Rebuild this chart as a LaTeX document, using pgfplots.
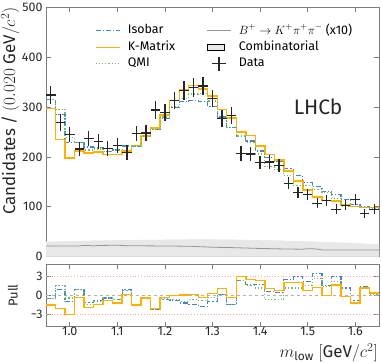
\documentclass[border=0pt]{standalone}
\usepackage{fontspec}
\setmainfont{Fira Sans}
\usepackage{pgfplots}
\usepackage{pgfplotstable}
\pgfplotsset{compat=1.18}
\definecolor{isocol}{RGB}{66,133,205}
\definecolor{kmcol}{RGB}{255,176,0}
\definecolor{qmicol}{RGB}{118,186,104}
\definecolor{combf}{RGB}{232,232,232}
\definecolor{bkpp}{RGB}{150,150,150}
\definecolor{frame}{RGB}{125,125,125}

\pgfplotstableread{
xl xc xe data err iso km qmi piso pkm pqmi
0.95 0.96 0.01 324 18.0 315 297 315 -0.5 -1.5 -0.5
0.97 0.98 0.01 269 16.4 285 235 295 1.0 -2.1 1.6
0.99 1.00 0.01 245 15.7 229 198 239 -1.0 -3.0 -0.4
1.01 1.02 0.01 216 14.7 229 212 229 0.9 -0.3 0.9
1.03 1.04 0.01 237 15.4 220 208 214 -1.1 -1.9 -1.5
1.05 1.06 0.01 231 15.2 219 210 216 -0.8 -1.4 -1.0
1.07 1.08 0.01 217 14.7 211 205 211 -0.4 -0.8 -0.4
1.09 1.10 0.01 223 14.9 214 205 213 -0.6 -1.2 -0.7
1.11 1.12 0.01 209 14.5 222 212 221 0.9 0.2 0.8
1.13 1.14 0.01 247 15.7 222 223 222 -1.6 -1.5 -1.6
1.15 1.16 0.01 248 15.7 242 242 242 -0.4 -0.4 -0.4
1.17 1.18 0.01 294 17.1 256 258 255 -2.2 -2.1 -2.3
1.19 1.20 0.01 289 17.0 277 284 280 -0.7 -0.3 -0.5
1.21 1.22 0.01 313 17.7 299 313 301 -0.8 0.0 -0.7
1.23 1.24 0.01 333 18.2 311 335 317 -1.2 0.1 -0.9
1.25 1.26 0.01 339 18.4 313 343 326 -1.4 0.2 -0.7
1.27 1.28 0.01 342 18.5 311 336 327 -1.7 -0.3 -0.8
1.29 1.30 0.01 317 17.8 301 322 312 -0.9 0.3 -0.3
1.31 1.32 0.01 277 16.6 280 295 279 0.2 1.1 0.1
1.33 1.34 0.01 283 16.8 259 278 259 -1.4 -0.3 -1.4
1.35 1.36 0.01 207 14.4 242 250 242 2.4 3.0 2.4
1.37 1.38 0.01 206 14.4 232 243 229 1.8 2.6 1.6
1.39 1.40 0.01 189 13.7 212 222 206 1.7 2.4 1.2
1.41 1.42 0.01 190 13.8 199 205 180 0.65 1.1 -0.7
1.43 1.44 0.01 183 13.5 190 194 174 0.5 0.8 -0.7
1.45 1.46 0.01 147 12.1 177 172 162 2.5 2.1 1.2
1.47 1.48 0.01 128 11.3 162 152 142 3.0 2.1 1.2
1.49 1.50 0.01 125 11.2 149 134 143 2.3 0.8 1.6
1.51 1.52 0.01 107 10.3 140 120 135 3.5 1.3 2.7
1.53 1.54 0.01 113 10.6 130 113 129 1.6 0.0 1.5
1.55 1.56 0.01 95 9.7 124 112 117 3.0 1.7 2.3
1.57 1.58 0.01 103 10.1 115 104 101 1.2 -0.2 -0.2
1.59 1.60 0.01 114 10.7 105 101 101 -0.8 -1.2 -1.2
1.61 1.62 0.01 87 9.3 100 98 98 1.4 1.2 1.2
1.63 1.64 0.01 95 9.7 98 99 96 0.3 0.4 0.1
1.65 1.66 0.01 95 9.7 98 99 96 0.3 0.4 0.1
}\tab

\pgfplotsset{
  myaxis/.style={
    scale only axis,
    xmin=0.95, xmax=1.65,
    axis line style={frame, line width=0.8bp},
    tick style={frame, line width=0.7bp},
    major tick length=5bp,
    tick align=inside,
    xtick pos=both, ytick pos=both,
    xtick={1.0,1.1,1.2,1.3,1.4,1.5,1.6},
    /pgf/number format/assume math mode=true,
    tick label style={font=\fontsize{12.5}{15}\selectfont, color=black!85},
    label style={font=\fontsize{17}{20}\selectfont, color=black!85},
  },
}

\begin{document}
\begin{tikzpicture}[font=\fontsize{12.5}{15}\selectfont]
\path[use as bounding box] (0,0) rectangle (382bp,364bp);
\begin{axis}[myaxis,
  at={(46bp,107.3bp)}, anchor=south west,
  width=333bp, height=249.5bp,
  ymin=0, ymax=500,
  ytick={0,100,200,300,400,500},
  xticklabels={},
  ylabel={Candidates / $(0.020\ \mathrm{GeV}/c^2)$},
  ylabel style={at={(rel axis cs:0,1)}, anchor=south east, inner sep=0pt, yshift=26.5bp},
  legend image code/.code={\draw[mark repeat=2,mark phase=2,#1] plot coordinates {(0bp,0bp) (12bp,0bp) (24bp,0bp)};},
  legend style={at={(rel axis cs:0.147,0.94)}, anchor=north west, draw=none, fill=none,
    inner sep=0pt, outer sep=0pt, row sep=1.5bp,
    font=\fontsize{12.5}{15}\selectfont,
    nodes={inner sep=1.5bp, text depth=2.5bp},
    /tikz/every odd column/.append style={column sep=6bp},
    /tikz/every even column/.append style={column sep=30bp}},
  legend columns=2,
  legend cell align=left,
]
\addplot[forget plot, fill=combf, draw=none] coordinates {
(0.95,30) (1.00,31) (1.05,32) (1.10,33) (1.15,33.5) (1.20,34) (1.25,34.5) (1.30,34.5)
(1.35,34) (1.40,33) (1.45,32) (1.50,30.5) (1.55,29) (1.60,27) (1.65,24.5)} \closedcycle;

\addplot[const plot, isocol, line width=1.2bp, dash pattern=on 5bp off 2bp on 1.2bp off 2bp, mark=none] table[x=xl, y=iso] {\tab};
\addlegendentry{Isobar}
\addplot[bkpp, line width=0.8bp, solid, mark=none] coordinates {
(0.95,21.5) (1.02,21.5) (1.03,22.5) (1.04,22.5) (1.05,21.5) (1.06,22.5) (1.10,23) (1.12,22)
(1.20,21.5) (1.25,21) (1.30,19) (1.35,18) (1.40,16.5) (1.45,15.5) (1.49,15) (1.50,16)
(1.52,15.5) (1.53,13.5) (1.60,13.5) (1.65,13.5)};
\addlegendentry{$B^+\rightarrow K^+\pi^+\pi^-$ (x10)}
\addplot[const plot, kmcol, line width=1.4bp, solid, mark=none] table[x=xl, y=km] {\tab};
\addlegendentry{K-Matrix}
\addplot[area legend, fill=combf, draw=none] coordinates {
(0.95,30) (1.00,31) (1.05,32) (1.10,33) (1.15,33.5) (1.20,34) (1.25,34.5) (1.30,34.5)
(1.35,34) (1.40,33) (1.45,32) (1.50,30.5) (1.55,29) (1.60,27) (1.65,24.5)} \closedcycle;
\addlegendentry{Combinatorial}
\addplot[const plot, qmicol, line width=1.2bp, dash pattern=on 1.2bp off 2bp, mark=none] table[x=xl, y=qmi] {\tab};
\addlegendentry{QMI}
\addlegendimage{black!85, only marks, mark=+, mark size=7bp, mark options={line width=1.3bp, solid}}
\addlegendentry{Data}

\addplot[forget plot, bkpp, line width=0.8bp, solid, mark=none] coordinates {
(0.95,21.5) (1.02,21.5) (1.03,22.5) (1.04,22.5) (1.05,21.5) (1.06,22.5) (1.10,23) (1.12,22)
(1.20,21.5) (1.25,21) (1.30,19) (1.35,18) (1.40,16.5) (1.45,15.5) (1.49,15) (1.50,16)
(1.52,15.5) (1.53,13.5) (1.60,13.5) (1.65,13.5)};
\addplot[forget plot, draw=none, mark=none, skip coords between index={35}{36},
  error bars/.cd, x dir=both, x explicit, y dir=both, y explicit,
  error bar style={line width=1.3bp, black!85}, error mark=none]
  table[x=xc, y=data, x error=xe, y error=err] {\tab};
\node[font=\fontsize{21}{24}\selectfont, color=black!85] at (axis cs:1.522,301) {LHCb};
\end{axis}

\begin{axis}[myaxis,
  at={(46bp,37.3bp)}, anchor=south west,
  width=333bp, height=62.4bp,
  ymin=-5, ymax=5,
  ytick={-3,0,3}, yticklabels={−3,0,3},
  xticklabels={1.0,1.1,1.2,1.3,1.4,1.5,1.6},
  xticklabel style={yshift=3bp},
  ylabel={Pull},
  ylabel style={font=\fontsize{13}{15}\selectfont, at={(rel axis cs:0,0.5)}, anchor=south, inner sep=0pt, yshift=28bp},
  xlabel={$m_{\mathrm{low}}\ [\mathrm{GeV}/c^2]$},
  xlabel style={at={(rel axis cs:1,0)}, anchor=north east, inner sep=0pt, yshift=-17bp, xshift=-1bp},
]
\addplot[red!35, dotted, line width=0.8bp] coordinates {(0.95,3) (1.65,3)};
\addplot[red!35, dotted, line width=0.8bp] coordinates {(0.95,-3) (1.65,-3)};
\addplot[black!30, dashed, line width=0.6bp] coordinates {(0.95,0) (1.65,0)};
\addplot[const plot, isocol, line width=1.2bp, dash pattern=on 5bp off 2bp on 1.2bp off 2bp] table[x=xl, y=piso] {\tab};
\addplot[const plot, qmicol, line width=1.2bp, dash pattern=on 1.2bp off 2bp] table[x=xl, y=pqmi] {\tab};
\addplot[const plot, kmcol, line width=1.4bp] table[x=xl, y=pkm] {\tab};
\end{axis}
\end{tikzpicture}
\end{document}
